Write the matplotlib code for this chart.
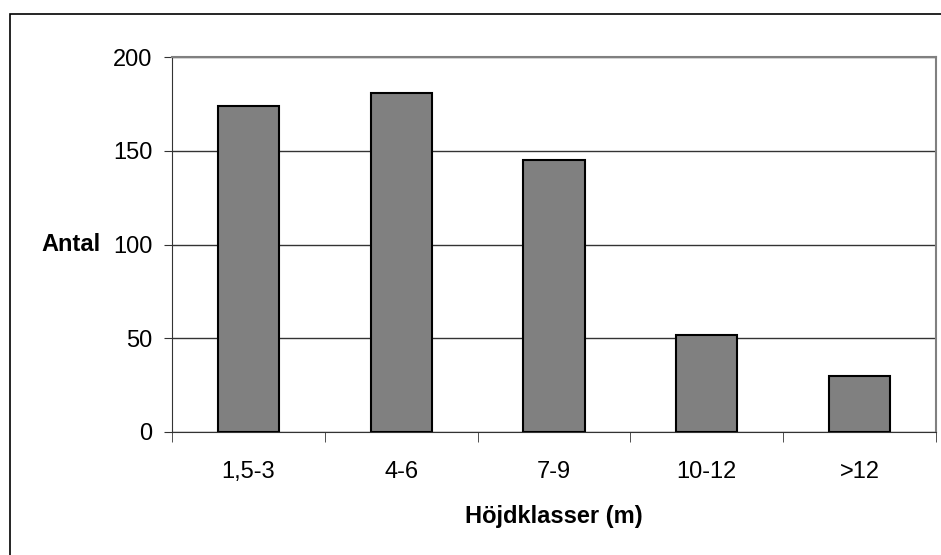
import matplotlib.pyplot as plt
from matplotlib.patches import Rectangle

plt.rcParams['font.family'] = ['Liberation Sans', 'DejaVu Sans']

klasser = ["1,5-3", "4-6", "7-9", "10-12", ">12"]
antal = [174, 181, 145, 52, 30]

fig = plt.figure(figsize=(9.41, 5.55), dpi=100)
ax = fig.add_axes([172 / 941, 1 - 432 / 555, 764 / 941, 375 / 555])

# outer chart frame (only top/left visible in the original)
fig.add_artist(Rectangle((9.5 / 941, -0.1), 1.2, 1 - 14 / 555 + 0.1,
                         transform=fig.transFigure, fill=False,
                         edgecolor="black", linewidth=1.2))

x = range(len(klasser))
ax.bar(x, antal, width=0.4, color="#808080", edgecolor="black", linewidth=1.5, zorder=3)

ax.set_xlim(-0.5, len(klasser) - 0.5)
ax.set_ylim(0, 200)
ax.set_yticks([0, 50, 100, 150, 200])
ax.yaxis.grid(True, color="#333333", linewidth=1)
ax.set_axisbelow(True)

ax.set_xticks(list(x))
ax.set_xticklabels(klasser)
ax.tick_params(axis="x", length=0, pad=21, labelsize=17)
ax.set_xticks([i - 0.5 for i in range(len(klasser) + 1)], minor=True)
ax.tick_params(axis="x", which="minor", length=7, direction="out", color="#333333")
ax.tick_params(axis="y", length=6, direction="out", labelsize=17, pad=8, color="#333333")

for s in ["top", "right"]:
    ax.spines[s].set_color("#808080")
    ax.spines[s].set_linewidth(1.5)
ax.spines["left"].set_color("#333333")
ax.spines["bottom"].set_color("#333333")

ax.set_xlabel("Höjdklasser (m)", fontsize=17, fontweight="bold", labelpad=16)
ax.set_ylabel("Antal", fontsize=17, fontweight="bold", rotation=0, va="center", ha="right")
ax.yaxis.set_label_coords(-0.094, 0.5)

fig.savefig("out.png", dpi=100)
